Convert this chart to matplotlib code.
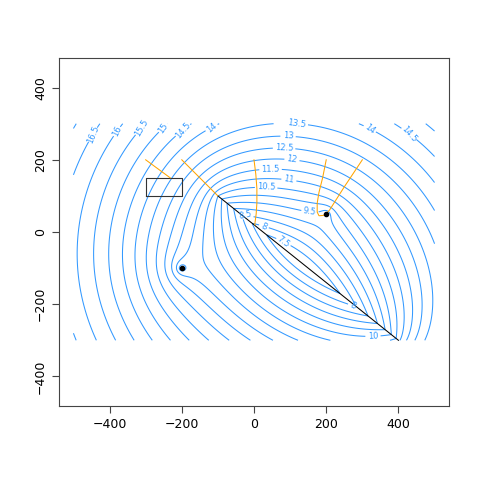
import numpy as np
import matplotlib
matplotlib.use("Agg")
import matplotlib.pyplot as plt

# wells (x, y, strength)
well_x = [-200, 200]
well_y = [-100, 50]
well_q = [0.5, 0.3]

# line sink end points and strength
line_x = [-100, 400]
line_y = [100, -300]
line_q = 4.9
regional_gx = -0.0006
head_min = 7.0

levels = np.arange(5.0, 17.01, 0.5)

# grid extent
grid_x = [-500, 500]
grid_y = [-300, 300]

# box
rect_x = [-300, -200]
rect_y = [100, 150]

# flow paths
path1_x = [-300, -232]
path1_y = [200, 150]
path2_x = [-200, -150, -100]
path2_y = [200, 150, 100]
path3_x = [0, 5, 8, 8, 6, 2]
path3_y = [200, 160, 120, 80, 50, 20]
path4_x = [200, 190, 180, 175, 175, 180, 192, 200]
path4_y = [200, 150, 110, 80, 55, 45, 46, 50]
path5_x = [300, 250, 210, 200]
path5_y = [200, 125, 62, 50]

# contour label spots
label_x = [-444, -375, -314, -251, -199, -116, 97, 323, 433,
           94, 83, 104, 46, 95, 33, 154, -23, 22, 76, 269, 329]
label_y = [269, 277, 288, 288, 283, 288, 296, 288, 274,
           261, 227, 195, 165, 138, 114, 53, 54, 7, -33, -211, -281]


def line_term(X, Y):
    x1, x2 = line_x
    y1, y2 = line_y
    L = np.hypot(x2 - x1, y2 - y1)
    ux, uy = (x2 - x1) / L, (y2 - y1) / L
    u = (X - x1) * ux + (Y - y1) * uy
    v = -(X - x1) * uy + (Y - y1) * ux
    v = np.where(np.abs(v) < 1e-9, 1e-9, v)

    def F(s):
        return 0.5 * s * np.log(s * s + v * v) - s + v * np.arctan(s / v)

    return (F(L - u) - F(-u)) / L


def head(X, Y):
    h = line_q * line_term(X, Y) + regional_gx * X
    for wx, wy, q in zip(well_x, well_y, well_q):
        h = h + q * 0.5 * np.log((X - wx) ** 2 + (Y - wy) ** 2 + 0.2)
    return h


xs = np.arange(grid_x[0], grid_x[1] + 0.1, 2.5)
ys = np.arange(grid_y[0], grid_y[1] + 0.1, 2.5)
X, Y = np.meshgrid(xs, ys)
H = head(X, Y)

t = np.linspace(0.02, 0.98, 300)
sx = line_x[0] + t * (line_x[1] - line_x[0])
sy = line_y[0] + t * (line_y[1] - line_y[0])
H = H + (head_min - head(sx, sy).min())

fig = plt.figure(figsize=(4.8, 4.8), dpi=100)
ax = fig.add_axes([59 / 480, 1 - 406 / 480, 390 / 480, 348 / 480])

blue = "#3399FF"
cs = ax.contour(X, Y, H, levels=levels, colors=blue, linewidths=0.75)
ax.clabel(cs, fmt="%g", fontsize=6, colors=blue, inline=True, inline_spacing=3,
          manual=list(zip(label_x, label_y)))

ax.plot(line_x, line_y, color="black", lw=0.75)
ax.plot([rect_x[0], rect_x[1], rect_x[1], rect_x[0], rect_x[0]],
        [rect_y[0], rect_y[0], rect_y[1], rect_y[1], rect_y[0]], color="#333333", lw=0.8)

orange = "#FFA500"
for px, py in [(path1_x, path1_y), (path2_x, path2_y), (path3_x, path3_y),
               (path4_x, path4_y), (path5_x, path5_y)]:
    ax.plot(px, py, color=orange, lw=0.75)

ax.scatter(well_x, well_y, s=9, color="black", zorder=5)

ax.set_xlim(-540, 540)
ax.set_ylim(-482, 482)
ax.set_xticks([-400, -200, 0, 200, 400])
ax.set_yticks([-400, -200, 0, 200, 400])
ax.tick_params(labelsize=9, length=5, color="#444444")
for lab in ax.get_yticklabels():
    lab.set_rotation(90)
    lab.set_va("center")
for sp in ax.spines.values():
    sp.set_color("#444444")
    sp.set_linewidth(0.8)

fig.savefig("out.png", dpi=100)
